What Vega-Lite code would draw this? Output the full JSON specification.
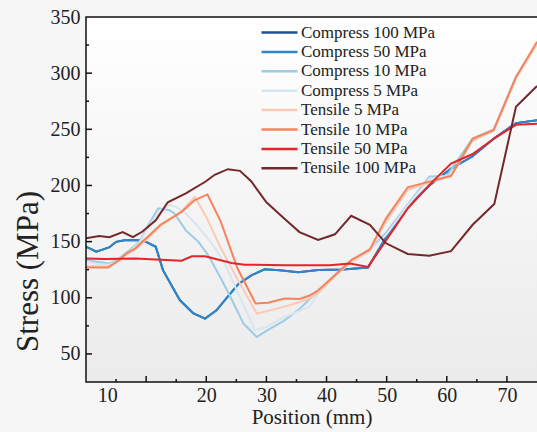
{
  "$schema": "https://vega.github.io/schema/vega-lite/v6.json",
  "width": 451,
  "height": 365,
  "autosize": {"type": "none"},
  "padding": {"left": 86, "top": 17, "right": 0, "bottom": 50},
  "background": "#f6f6f6",
  "config": {
    "font": "Liberation Serif",
    "view": {
      "fill": {"gradient": "linear", "x1": 0, "y1": 0, "x2": 0, "y2": 1, "stops": [{"offset": 0, "color": "#ffffff"}, {"offset": 1, "color": "#ebebeb"}]},
      "stroke": null
    }
  },
  "datasets": {
    "pts": [
      {"s":"Compress 100 MPa","x":0,"y":145.5},{"s":"Compress 100 MPa","x":1.7,"y":141},{"s":"Compress 100 MPa","x":2.5,"y":142.4},{"s":"Compress 100 MPa","x":3.9,"y":145},{"s":"Compress 100 MPa","x":5,"y":149.8},{"s":"Compress 100 MPa","x":6.6,"y":151.5},{"s":"Compress 100 MPa","x":8.9,"y":151.3},{"s":"Compress 100 MPa","x":10,"y":149.8},{"s":"Compress 100 MPa","x":11.6,"y":145.4},{"s":"Compress 100 MPa","x":12.8,"y":124.6},{"s":"Compress 100 MPa","x":15.6,"y":98},{"s":"Compress 100 MPa","x":17.8,"y":86.4},{"s":"Compress 100 MPa","x":19.8,"y":81.4},{"s":"Compress 100 MPa","x":21.7,"y":88.8},{"s":"Compress 100 MPa","x":23.4,"y":100},{"s":"Compress 100 MPa","x":25.3,"y":112},{"s":"Compress 100 MPa","x":27.5,"y":120},{"s":"Compress 100 MPa","x":29.7,"y":125.3},{"s":"Compress 100 MPa","x":32.2,"y":124.6},{"s":"Compress 100 MPa","x":35.3,"y":122.8},{"s":"Compress 100 MPa","x":38.6,"y":124.8},{"s":"Compress 100 MPa","x":42.7,"y":125.2},{"s":"Compress 100 MPa","x":46.9,"y":127},{"s":"Compress 100 MPa","x":49.9,"y":154},{"s":"Compress 100 MPa","x":53.5,"y":181},{"s":"Compress 100 MPa","x":57.1,"y":200},{"s":"Compress 100 MPa","x":60.7,"y":215},{"s":"Compress 100 MPa","x":64.3,"y":226},{"s":"Compress 100 MPa","x":67.9,"y":242},{"s":"Compress 100 MPa","x":71.5,"y":255.5},{"s":"Compress 100 MPa","x":75,"y":258},
      {"s":"Compress 50 MPa","x":0,"y":145.5},{"s":"Compress 50 MPa","x":1.7,"y":141},{"s":"Compress 50 MPa","x":2.5,"y":142.4},{"s":"Compress 50 MPa","x":3.9,"y":145},{"s":"Compress 50 MPa","x":5,"y":149.8},{"s":"Compress 50 MPa","x":6.6,"y":151.5},{"s":"Compress 50 MPa","x":8.9,"y":151.3},{"s":"Compress 50 MPa","x":10,"y":149.8},{"s":"Compress 50 MPa","x":11.6,"y":145.4},{"s":"Compress 50 MPa","x":12.8,"y":124.6},{"s":"Compress 50 MPa","x":15.6,"y":98},{"s":"Compress 50 MPa","x":17.8,"y":86.4},{"s":"Compress 50 MPa","x":19.8,"y":81.4},{"s":"Compress 50 MPa","x":21.7,"y":88.8},{"s":"Compress 50 MPa","x":23.4,"y":100},{"s":"Compress 50 MPa","x":25.3,"y":112},{"s":"Compress 50 MPa","x":27.5,"y":120},{"s":"Compress 50 MPa","x":29.7,"y":125.3},{"s":"Compress 50 MPa","x":32.2,"y":124.6},{"s":"Compress 50 MPa","x":35.3,"y":122.8},{"s":"Compress 50 MPa","x":38.6,"y":124.8},{"s":"Compress 50 MPa","x":42.7,"y":125.2},{"s":"Compress 50 MPa","x":46.9,"y":127},{"s":"Compress 50 MPa","x":49.9,"y":154},{"s":"Compress 50 MPa","x":53.5,"y":181},{"s":"Compress 50 MPa","x":57.1,"y":200},{"s":"Compress 50 MPa","x":60.7,"y":215},{"s":"Compress 50 MPa","x":64.3,"y":226},{"s":"Compress 50 MPa","x":67.9,"y":242},{"s":"Compress 50 MPa","x":71.5,"y":255.5},{"s":"Compress 50 MPa","x":75,"y":258},
      {"s":"Compress 10 MPa","x":0,"y":134},{"s":"Compress 10 MPa","x":1.7,"y":132},{"s":"Compress 10 MPa","x":3.9,"y":130.5},{"s":"Compress 10 MPa","x":5.5,"y":135},{"s":"Compress 10 MPa","x":7.2,"y":142.4},{"s":"Compress 10 MPa","x":8.9,"y":149.8},{"s":"Compress 10 MPa","x":10.5,"y":166},{"s":"Compress 10 MPa","x":12,"y":179.6},{"s":"Compress 10 MPa","x":13.9,"y":178},{"s":"Compress 10 MPa","x":14.7,"y":175},{"s":"Compress 10 MPa","x":16.6,"y":160},{"s":"Compress 10 MPa","x":18.7,"y":149.8},{"s":"Compress 10 MPa","x":20.3,"y":138},{"s":"Compress 10 MPa","x":22.3,"y":118.6},{"s":"Compress 10 MPa","x":23.9,"y":102},{"s":"Compress 10 MPa","x":26.2,"y":77},{"s":"Compress 10 MPa","x":28.4,"y":65},{"s":"Compress 10 MPa","x":30,"y":70.5},{"s":"Compress 10 MPa","x":32.9,"y":79.5},{"s":"Compress 10 MPa","x":35.5,"y":90},{"s":"Compress 10 MPa","x":38.6,"y":106},{"s":"Compress 10 MPa","x":41.1,"y":119},{"s":"Compress 10 MPa","x":44.1,"y":133},{"s":"Compress 10 MPa","x":47.2,"y":143},{"s":"Compress 10 MPa","x":49.9,"y":158},{"s":"Compress 10 MPa","x":53.5,"y":183},{"s":"Compress 10 MPa","x":57.1,"y":208},{"s":"Compress 10 MPa","x":60,"y":208.5},{"s":"Compress 10 MPa","x":64.3,"y":242},{"s":"Compress 10 MPa","x":67.8,"y":250},{"s":"Compress 10 MPa","x":71.5,"y":297},{"s":"Compress 10 MPa","x":75,"y":326},
      {"s":"Compress 5 MPa","x":0,"y":132},{"s":"Compress 5 MPa","x":1.7,"y":130},{"s":"Compress 5 MPa","x":3.9,"y":129.5},{"s":"Compress 5 MPa","x":5.5,"y":134},{"s":"Compress 5 MPa","x":7.2,"y":141},{"s":"Compress 5 MPa","x":8.9,"y":149},{"s":"Compress 5 MPa","x":10.5,"y":164},{"s":"Compress 5 MPa","x":12.4,"y":178},{"s":"Compress 5 MPa","x":13.9,"y":182.5},{"s":"Compress 5 MPa","x":15,"y":181},{"s":"Compress 5 MPa","x":16.6,"y":175},{"s":"Compress 5 MPa","x":18.7,"y":163},{"s":"Compress 5 MPa","x":20.9,"y":148.5},{"s":"Compress 5 MPa","x":23.1,"y":130.5},{"s":"Compress 5 MPa","x":25.3,"y":104},{"s":"Compress 5 MPa","x":28.1,"y":71},{"s":"Compress 5 MPa","x":30,"y":74},{"s":"Compress 5 MPa","x":33.1,"y":83},{"s":"Compress 5 MPa","x":37.2,"y":92},{"s":"Compress 5 MPa","x":38.6,"y":104},{"s":"Compress 5 MPa","x":41.1,"y":118},{"s":"Compress 5 MPa","x":44.1,"y":132},{"s":"Compress 5 MPa","x":47.2,"y":142},{"s":"Compress 5 MPa","x":49.9,"y":156},{"s":"Compress 5 MPa","x":53.5,"y":182},{"s":"Compress 5 MPa","x":57.1,"y":206},{"s":"Compress 5 MPa","x":60.7,"y":209},{"s":"Compress 5 MPa","x":64.3,"y":241},{"s":"Compress 5 MPa","x":67.8,"y":249.5},{"s":"Compress 5 MPa","x":71.5,"y":296},{"s":"Compress 5 MPa","x":75,"y":326},
      {"s":"Tensile 5 MPa","x":0,"y":128},{"s":"Tensile 5 MPa","x":3.7,"y":128},{"s":"Tensile 5 MPa","x":5.5,"y":133},{"s":"Tensile 5 MPa","x":6.6,"y":138},{"s":"Tensile 5 MPa","x":8.2,"y":143},{"s":"Tensile 5 MPa","x":10.5,"y":154},{"s":"Tensile 5 MPa","x":12.4,"y":164},{"s":"Tensile 5 MPa","x":15.9,"y":177},{"s":"Tensile 5 MPa","x":18.1,"y":190},{"s":"Tensile 5 MPa","x":20,"y":172},{"s":"Tensile 5 MPa","x":22.3,"y":145.5},{"s":"Tensile 5 MPa","x":25.3,"y":115.5},{"s":"Tensile 5 MPa","x":28.4,"y":86},{"s":"Tensile 5 MPa","x":30.6,"y":88.8},{"s":"Tensile 5 MPa","x":33.9,"y":93.3},{"s":"Tensile 5 MPa","x":37.2,"y":99.3},{"s":"Tensile 5 MPa","x":38.6,"y":104},{"s":"Tensile 5 MPa","x":41.1,"y":117.5},{"s":"Tensile 5 MPa","x":44.1,"y":132},{"s":"Tensile 5 MPa","x":47.2,"y":142},{"s":"Tensile 5 MPa","x":49.9,"y":168},{"s":"Tensile 5 MPa","x":53.5,"y":196},{"s":"Tensile 5 MPa","x":57.1,"y":202.5},{"s":"Tensile 5 MPa","x":60.7,"y":208},{"s":"Tensile 5 MPa","x":64.3,"y":240},{"s":"Tensile 5 MPa","x":67.8,"y":248.5},{"s":"Tensile 5 MPa","x":71.5,"y":295},{"s":"Tensile 5 MPa","x":75,"y":326},
      {"s":"Tensile 10 MPa","x":0,"y":127},{"s":"Tensile 10 MPa","x":3.7,"y":127},{"s":"Tensile 10 MPa","x":5.5,"y":133.5},{"s":"Tensile 10 MPa","x":6.6,"y":139},{"s":"Tensile 10 MPa","x":8.2,"y":144},{"s":"Tensile 10 MPa","x":10.5,"y":155.5},{"s":"Tensile 10 MPa","x":12.4,"y":165},{"s":"Tensile 10 MPa","x":15.9,"y":176.5},{"s":"Tensile 10 MPa","x":18.1,"y":187},{"s":"Tensile 10 MPa","x":20.2,"y":192},{"s":"Tensile 10 MPa","x":22.4,"y":168},{"s":"Tensile 10 MPa","x":25.2,"y":126},{"s":"Tensile 10 MPa","x":28.2,"y":95},{"s":"Tensile 10 MPa","x":30.3,"y":95.5},{"s":"Tensile 10 MPa","x":33,"y":99.3},{"s":"Tensile 10 MPa","x":35.5,"y":99},{"s":"Tensile 10 MPa","x":37.2,"y":102},{"s":"Tensile 10 MPa","x":38.6,"y":106.7},{"s":"Tensile 10 MPa","x":41.1,"y":118.6},{"s":"Tensile 10 MPa","x":44.1,"y":133.5},{"s":"Tensile 10 MPa","x":47.2,"y":143},{"s":"Tensile 10 MPa","x":49.9,"y":170.7},{"s":"Tensile 10 MPa","x":53.5,"y":198.4},{"s":"Tensile 10 MPa","x":57.1,"y":203.4},{"s":"Tensile 10 MPa","x":60.7,"y":208.6},{"s":"Tensile 10 MPa","x":64.3,"y":241.5},{"s":"Tensile 10 MPa","x":67.8,"y":249.5},{"s":"Tensile 10 MPa","x":71.5,"y":296.5},{"s":"Tensile 10 MPa","x":75,"y":328},
      {"s":"Tensile 50 MPa","x":0,"y":135},{"s":"Tensile 50 MPa","x":3.2,"y":134.5},{"s":"Tensile 50 MPa","x":8.3,"y":135},{"s":"Tensile 50 MPa","x":11.6,"y":134},{"s":"Tensile 50 MPa","x":15.9,"y":133},{"s":"Tensile 50 MPa","x":17.6,"y":137},{"s":"Tensile 50 MPa","x":19.8,"y":137},{"s":"Tensile 50 MPa","x":24.2,"y":131},{"s":"Tensile 50 MPa","x":26.4,"y":129.5},{"s":"Tensile 50 MPa","x":33.1,"y":129},{"s":"Tensile 50 MPa","x":40.5,"y":129},{"s":"Tensile 50 MPa","x":43.9,"y":130.5},{"s":"Tensile 50 MPa","x":46.9,"y":127.5},{"s":"Tensile 50 MPa","x":49.9,"y":151},{"s":"Tensile 50 MPa","x":53.5,"y":179.5},{"s":"Tensile 50 MPa","x":57.1,"y":200.5},{"s":"Tensile 50 MPa","x":60.7,"y":219.5},{"s":"Tensile 50 MPa","x":64.3,"y":228},{"s":"Tensile 50 MPa","x":67.9,"y":242},{"s":"Tensile 50 MPa","x":71.5,"y":254},{"s":"Tensile 50 MPa","x":75,"y":255},
      {"s":"Tensile 100 MPa","x":0,"y":153},{"s":"Tensile 100 MPa","x":2.2,"y":155},{"s":"Tensile 100 MPa","x":3.9,"y":154},{"s":"Tensile 100 MPa","x":6.1,"y":158.5},{"s":"Tensile 100 MPa","x":7.8,"y":154},{"s":"Tensile 100 MPa","x":9.4,"y":159},{"s":"Tensile 100 MPa","x":11.6,"y":169},{"s":"Tensile 100 MPa","x":13.6,"y":185},{"s":"Tensile 100 MPa","x":16.6,"y":193},{"s":"Tensile 100 MPa","x":19.9,"y":203.5},{"s":"Tensile 100 MPa","x":21.4,"y":209.5},{"s":"Tensile 100 MPa","x":23.6,"y":214.5},{"s":"Tensile 100 MPa","x":25.6,"y":213},{"s":"Tensile 100 MPa","x":27.5,"y":203.5},{"s":"Tensile 100 MPa","x":30,"y":185},{"s":"Tensile 100 MPa","x":33.1,"y":170},{"s":"Tensile 100 MPa","x":35.5,"y":158.5},{"s":"Tensile 100 MPa","x":38.6,"y":151.5},{"s":"Tensile 100 MPa","x":41.4,"y":156.5},{"s":"Tensile 100 MPa","x":44.1,"y":173},{"s":"Tensile 100 MPa","x":47.2,"y":165},{"s":"Tensile 100 MPa","x":49.9,"y":148.5},{"s":"Tensile 100 MPa","x":53.5,"y":139},{"s":"Tensile 100 MPa","x":57.1,"y":137.5},{"s":"Tensile 100 MPa","x":60.7,"y":141.5},{"s":"Tensile 100 MPa","x":64.3,"y":165},{"s":"Tensile 100 MPa","x":67.9,"y":183.5},{"s":"Tensile 100 MPa","x":71.5,"y":270},{"s":"Tensile 100 MPa","x":75,"y":288.5}
    ]
  },
  "layer": [
    {
      "data": {"name": "pts"},
      "mark": {"type": "line", "strokeWidth": 2, "clip": true},
      "encoding": {
        "x": {
          "field": "x", "type": "quantitative",
          "scale": {"domain": [0, 75], "nice": false, "zero": false},
          "axis": {
            "orient": "bottom",
            "title": "Position (mm)",
            "values": [10, 20, 30, 40, 50, 60, 70],
            "domain": false, "ticks": false, "grid": false, "tickSize": 0,
            "labelOffset": {"condition": {"test": "datum.value == 10", "value": -39}, "value": 0},
            "labelFontSize": 20, "labelColor": "#222222", "labelPadding": 3,
            "labelFlush": false, "labelOverlap": false, "labelBound": false,
            "titleFontSize": 21, "titleFontWeight": "normal", "titleColor": "#222222",
            "titleY": 41, "titleBaseline": "alphabetic"
          }
        },
        "y": {
          "field": "y", "type": "quantitative",
          "scale": {"domain": [25, 350], "nice": false, "zero": false},
          "axis": {
            "orient": "left",
            "title": "Stress (MPa)",
            "values": [50, 100, 150, 200, 250, 300, 350],
            "domain": false, "ticks": false, "grid": false, "tickSize": 0,
            "labelFontSize": 20, "labelColor": "#222222", "labelPadding": 6,
            "labelFlush": false, "labelOverlap": false, "labelBound": false,
            "titleFontSize": 31, "titleFontWeight": "normal", "titleColor": "#222222",
            "titleX": -58, "titleY": 254, "titleBaseline": "middle", "titleAlign": "center"
          }
        },
        "color": {
          "field": "s", "type": "nominal",
          "scale": {
            "domain": ["Compress 100 MPa", "Compress 50 MPa", "Compress 10 MPa", "Compress 5 MPa", "Tensile 5 MPa", "Tensile 10 MPa", "Tensile 50 MPa", "Tensile 100 MPa"],
            "range": ["#1f4e96", "#2f86c8", "#9ccbe3", "#d7e6ef", "#fbcab5", "#f5845c", "#e3242b", "#74282c"]
          },
          "sort": ["Compress 100 MPa", "Compress 50 MPa", "Compress 10 MPa", "Compress 5 MPa", "Tensile 5 MPa", "Tensile 10 MPa", "Tensile 50 MPa", "Tensile 100 MPa"],
          "legend": {
            "title": null,
            "orient": "none", "legendX": 183, "legendY": 5,
            "symbolType": "M-2,0H2", "symbolSize": 324, "symbolStrokeWidth": 2.5,
            "labelFontSize": 17, "labelFont": "Liberation Serif", "labelColor": "#222222",
            "labelOffset": 11, "labelLimit": 300, "padding": 0, "rowPadding": 0.4
          }
        }
      }
    },
    {
      "data": {"values": [{}]},
      "mark": {"type": "rect", "filled": false, "stroke": "#111111", "strokeWidth": 1.5, "fill": null},
      "encoding": {
        "x": {"datum": 0, "type": "quantitative", "scale": {"domain": [0, 75], "nice": false, "zero": false}, "axis": null},
        "x2": {"datum": 75.4},
        "y": {"datum": 25, "type": "quantitative", "scale": {"domain": [25, 350], "nice": false, "zero": false}, "axis": null},
        "y2": {"datum": 350}
      }
    },
    {
      "data": {"values": [{"v": 10}, {"v": 20}, {"v": 30}, {"v": 40}, {"v": 50}, {"v": 60}, {"v": 70}]},
      "mark": {"type": "tick", "orient": "vertical", "color": "#111111", "thickness": 1.5, "size": 12, "opacity": 1, "clip": true},
      "encoding": {
        "x": {"field": "v", "type": "quantitative", "scale": {"domain": [0, 75], "nice": false, "zero": false}, "axis": null},
        "y": {"datum": 25, "type": "quantitative", "scale": {"domain": [25, 350], "nice": false, "zero": false}, "axis": null}
      }
    },
    {
      "data": {"values": [{"v": 5}, {"v": 15}, {"v": 25}, {"v": 35}, {"v": 45}, {"v": 55}, {"v": 65}]},
      "mark": {"type": "tick", "orient": "vertical", "color": "#111111", "thickness": 1.5, "size": 6, "opacity": 1, "clip": true},
      "encoding": {
        "x": {"field": "v", "type": "quantitative", "scale": {"domain": [0, 75], "nice": false, "zero": false}, "axis": null},
        "y": {"datum": 25, "type": "quantitative", "scale": {"domain": [25, 350], "nice": false, "zero": false}, "axis": null}
      }
    },
    {
      "data": {"values": [{"v": 50}, {"v": 100}, {"v": 150}, {"v": 200}, {"v": 250}, {"v": 300}]},
      "mark": {"type": "tick", "orient": "horizontal", "color": "#111111", "thickness": 1.5, "size": 12, "opacity": 1, "clip": true},
      "encoding": {
        "y": {"field": "v", "type": "quantitative", "scale": {"domain": [25, 350], "nice": false, "zero": false}, "axis": null},
        "x": {"datum": 0, "type": "quantitative", "scale": {"domain": [0, 75], "nice": false, "zero": false}, "axis": null}
      }
    },
    {
      "data": {"values": [{"v": 75}, {"v": 125}, {"v": 175}, {"v": 225}, {"v": 275}, {"v": 325}]},
      "mark": {"type": "tick", "orient": "horizontal", "color": "#111111", "thickness": 1.5, "size": 6, "opacity": 1, "clip": true},
      "encoding": {
        "y": {"field": "v", "type": "quantitative", "scale": {"domain": [25, 350], "nice": false, "zero": false}, "axis": null},
        "x": {"datum": 0, "type": "quantitative", "scale": {"domain": [0, 75], "nice": false, "zero": false}, "axis": null}
      }
    }
  ],
  "resolve": {"axis": {"x": "independent", "y": "independent"}}
}
